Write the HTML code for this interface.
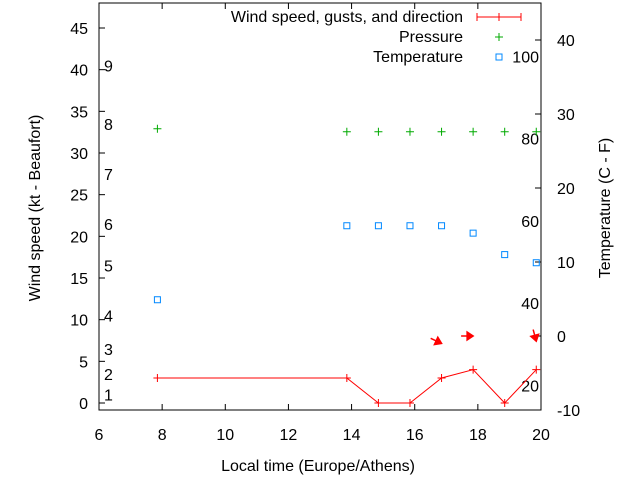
<!DOCTYPE html>
<html><head><meta charset="utf-8"><style>body{margin:0;background:#fff}svg{font-family:"Liberation Sans",sans-serif}</style></head>
<body>
<svg id="c" width="640" height="480">
<rect x="99" y="3" width="442" height="407" fill="none" stroke="#000"/>
<g id="g"></g>
<text x="318" y="471" font-size="16" text-anchor="middle">Local time (Europe/Athens)</text>
<text transform="translate(40,208) rotate(-90)" font-size="16" text-anchor="middle">Wind speed (kt - Beaufort)</text>
<text transform="translate(610,208) rotate(-90)" font-size="16" text-anchor="middle">Temperature (C - F)</text>
<g font-size="16" text-anchor="end">
<text x="463" y="22">Wind speed, gusts, and direction</text>
<path d="M477 17h44M477 13v8M521 13v8M499 13v8" stroke="red"/>
<text x="463" y="42">Pressure</text>
<path d="M495 37h8M499 33v8" stroke="#0a0"/>
<text x="463" y="62">Temperature</text>
<rect x="496" y="54" width="6" height="6" fill="none" stroke="#08f"/>
</g>
</svg>
<script>
const times=[7.85,13.85,14.85,15.85,16.85,17.85,18.85,19.85];
const wind=[3,3,0,0,3,4,0,4];
const pressure=[28,27.6,27.6,27.6,27.6,27.6,27.6,27.6];
const temps=[4.9,14.9,14.9,14.9,14.9,13.9,11,9.9];
const arrowTimes=[16.85,17.85,19.85];
const arrowLevels=[-1,0,-0.7];
const arrowDirs=[295,270,345];
const xTicks=[6,8,10,12,14,16,18,20];
const yTicks=[0,5,10,15,20,25,30,35,40,45];
const y2Ticks=[-10,0,10,20,30,40];
const bftLabels=["1","2","3","4","5","6","7","8","9"];
const bftY=[1,3.5,6.5,10.5,16.5,21.5,27.5,33.5,40.5];
const fLabels=[20,40,60,80,100];
const X=t=>99+(t-6)*442/14, Y=v=>403-v*375/45, Y2=v=>410-(v+10)*7.4;
const g=document.getElementById('g'),NS='http://www.w3.org/2000/svg';
function mk(tag,a,txt){const e=document.createElementNS(NS,tag);for(const k in a)e.setAttribute(k,a[k]);if(txt!==undefined)e.textContent=txt;g.appendChild(e);return e;}
xTicks.forEach(t=>{const x=X(t);let e=mk('path',{d:`M${x} 410v-6M${x} 3v6`,stroke:'#000'});
e=mk('text',{x:x,y:440,'font-size':16,'text-anchor':'middle'},t);});
yTicks.forEach(v=>{const y=Y(v);let e=mk('path',{d:`M99 ${y}h6`,stroke:'#000'});
e=mk('text',{x:88,y:y+6,'font-size':16,'text-anchor':'end'},v);});
y2Ticks.forEach(v=>{const y=Y2(v);let e=mk('path',{d:`M541 ${y}h-6`,stroke:'#000'});
e=mk('text',{x:557,y:y+6,'font-size':16},v);});
bftLabels.forEach((l,i)=>{const e=mk('text',{x:104,y:Y(bftY[i])+6,'font-size':16},l);});
fLabels.forEach(f=>{const e=mk('text',{x:539,y:Y2((f-32)*5/9)+6,'font-size':16,'text-anchor':'end'},f);});
let e=mk('polyline',{points:times.map((t,i)=>X(t)+','+Y(wind[i])).join(' '),fill:'none',stroke:'red'});

times.forEach((t,i)=>{const x=X(t),y=Y(wind[i]);let e=mk('path',{d:`M${x-4} ${y}h8M${x} ${y-4}v8`,stroke:'red'});
const py=Y2(pressure[i]);e=mk('path',{d:`M${x-4} ${py}h8M${x} ${py-4}v8`,stroke:'#0a0'});
const ty=Y2(temps[i]);e=mk('rect',{x:x-3,y:ty-3,width:6,height:6,fill:'none',stroke:'#08f'});});
arrowTimes.forEach((t,i)=>{const x=X(t),y=Y2(arrowLevels[i]),a=(arrowDirs[i]-270)*Math.PI/180,c=Math.cos(a),s=Math.sin(a);
const x0=x-12*c,y0=y-12*s;
const e=mk('path',{d:`M${x0} ${y0}L${x} ${y}M${x} ${y}L${x-6*c+4*s} ${y-6*s-4*c}L${x-6*c-4*s} ${y-6*s+4*c}Z`,stroke:'red',fill:'red','stroke-width':1.5});
});
</script>
</body></html>
